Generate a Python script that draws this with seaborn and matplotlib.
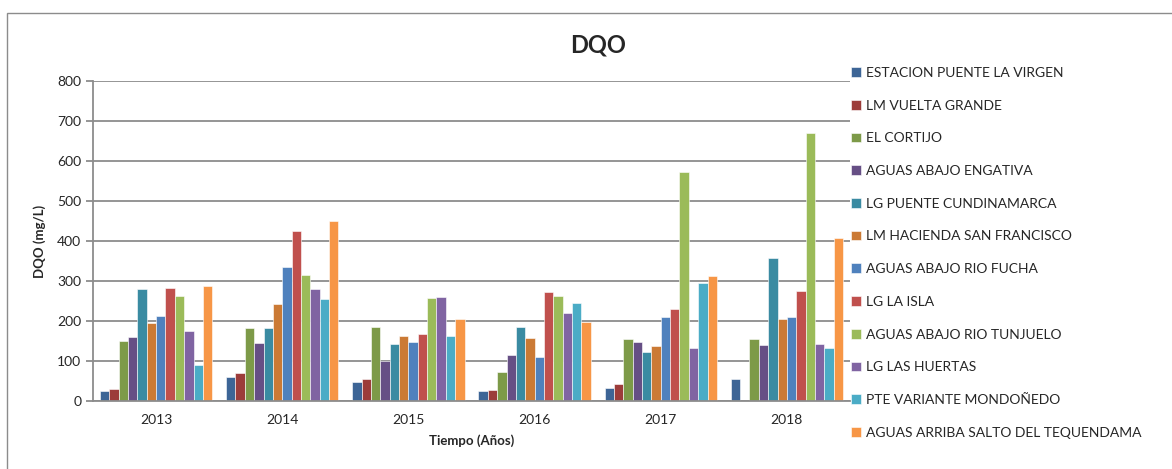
import numpy as np
import pandas as pd
import seaborn as sns
import matplotlib.pyplot as plt
from matplotlib.patches import Rectangle

# Datos DQO (mg/L) por estación y año
anios = ['2013', '2014', '2015', '2016', '2017', '2018']
estaciones = ['ESTACION PUENTE LA VIRGEN', 'LM VUELTA GRANDE', 'EL CORTIJO',
              'AGUAS ABAJO ENGATIVA', 'LG PUENTE CUNDINAMARCA',
              'LM HACIENDA SAN FRANCISCO', 'AGUAS ABAJO RIO FUCHA', 'LG LA ISLA',
              'AGUAS ABAJO RIO TUNJUELO', 'LG LAS HUERTAS',
              'PTE VARIANTE MONDOÑEDO', 'AGUAS ARRIBA SALTO DEL TEQUENDAMA']

dqo_2013 = [26, 30, 149, 159, 279, 194, 213, 282, 262, 174, 91, 288]
dqo_2014 = [60, 70, 182, 146, 182, 242, 335, 425, 315, 281, 254, 449]
dqo_2015 = [48, 54, 184, 100, 143, 162, 148, 168, 257, 259, 162, 205]
dqo_2016 = [26, 28, 72, 116, 185, 158, 110, 272, 262, 221, 245, 198]
dqo_2017 = [32, 43, 156, 148, 122, 138, 210, 231, 572, 132, 295, 313]
dqo_2018 = [56, np.nan, 156, 139, 357, 206, 211, 276, 670, 143, 132, 407]

colores = ['#3D6596', '#9C3C3A', '#7D9A48', '#664F85', '#3A8BA2', '#CB7A35',
           '#4F81BD', '#C0504D', '#9BBB59', '#8064A2', '#4BACC6', '#F79646']

valores = [dqo_2013, dqo_2014, dqo_2015, dqo_2016, dqo_2017, dqo_2018]
filas = []
for anio, vals in zip(anios, valores):
    for est, v in zip(estaciones, vals):
        filas.append({'Año': anio, 'Estación': est, 'DQO': v})
df = pd.DataFrame(filas)

sns.set_style('white')
plt.rcParams['font.family'] = ['Lato', 'DejaVu Sans']

fig = plt.figure(figsize=(11.72, 4.69), dpi=100)
ax = fig.add_axes([93 / 1172, 1 - 401 / 469, (850 - 93) / 1172, (401 - 81) / 469])

sns.barplot(data=df, x='Año', y='DQO', hue='Estación', hue_order=estaciones,
            palette=colores, width=0.89, saturation=1, errorbar=None,
            edgecolor='white', linewidth=0.4, ax=ax)

ax.set_ylim(0, 800)
ax.set_xlim(-0.5, 5.5)
ax.set_yticks(range(0, 801, 100))
ax.yaxis.grid(True, color='#8C8C8C', linewidth=1.3)
ax.set_axisbelow(True)
for s in ['top', 'right']:
    ax.spines[s].set_visible(False)
for s in ['left', 'bottom']:
    ax.spines[s].set_color('#8C8C8C')
    ax.spines[s].set_linewidth(1.3)

ax.set_xticks(range(len(anios)))
ax.set_xticklabels(anios)
ax.set_xticks(np.arange(-0.5, 6, 1), minor=True)
ax.tick_params(axis='x', which='major', length=0, labelsize=10, pad=9)
ax.tick_params(axis='x', which='minor', length=5, color='#8C8C8C', width=1.3, direction='out')
ax.tick_params(axis='y', length=5, color='#8C8C8C', width=1.3, direction='out', labelsize=10, left=True)

ax.set_xlabel('Tiempo (Años)', fontsize=9.5, fontweight='bold', labelpad=6)
ax.set_ylabel('DQO (mg/L)', fontsize=9.5, fontweight='bold', labelpad=8)

fig.text(0.51, 1 - 45 / 469, 'DQO', fontsize=17, fontweight='bold', ha='center', va='center')

handles, labels = ax.get_legend_handles_labels()
ax.legend_.remove()
fig.legend(handles, labels, loc='upper left', bbox_to_anchor=(851 / 1172, 1 - 67 / 469),
           frameon=False, fontsize=10, handlelength=0.7, handleheight=0.7,
           handletextpad=0.4, labelspacing=1.49, borderpad=0, borderaxespad=0)

fig.patches.append(Rectangle((7 / 1172, -0.05), 1.1, 1 - 13 / 469 + 0.05,
                             transform=fig.transFigure, fill=False,
                             edgecolor='#8C8C8C', linewidth=1))

fig.savefig('out.png', dpi=100)
